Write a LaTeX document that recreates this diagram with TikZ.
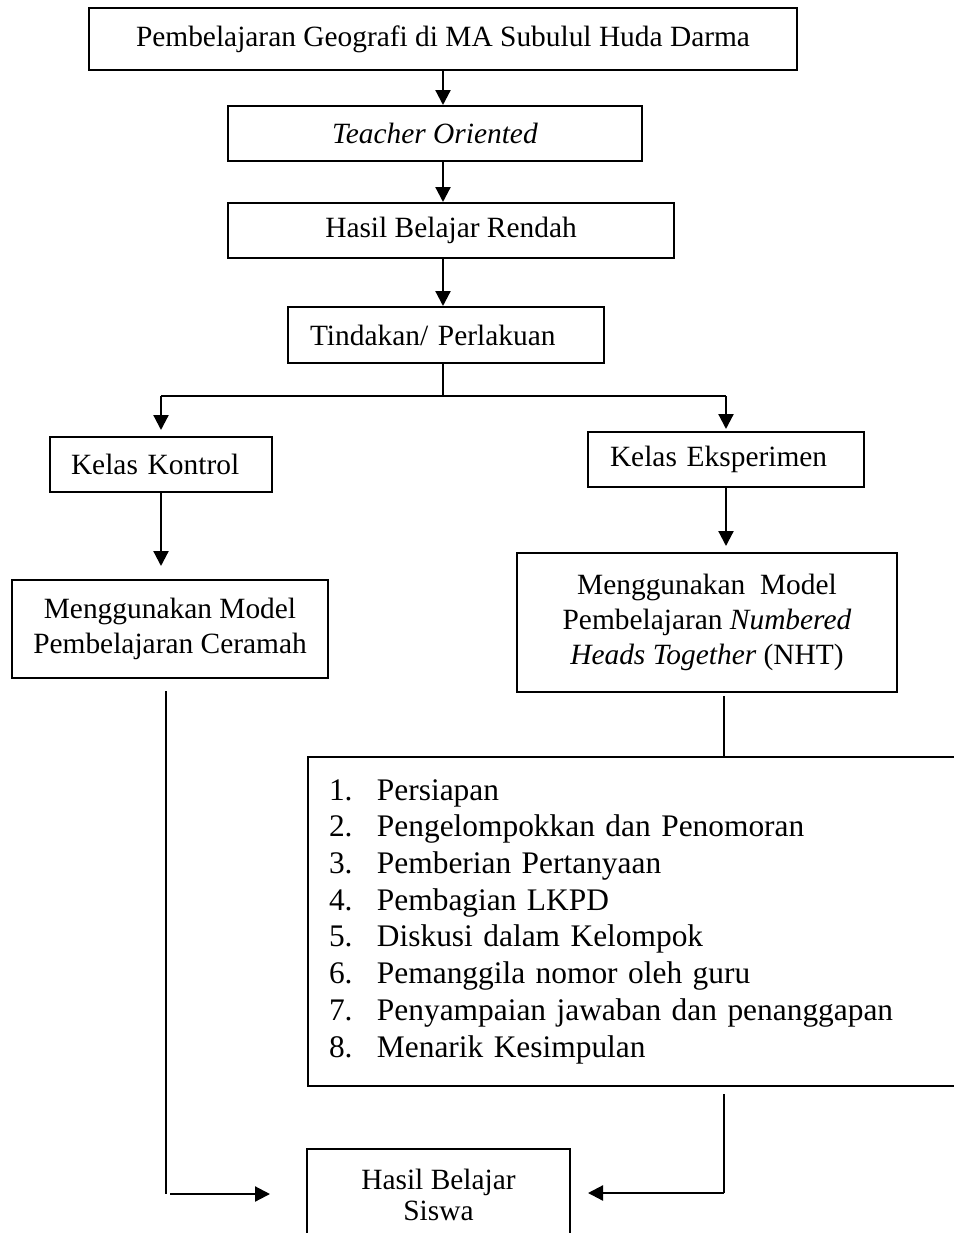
\documentclass[tikz,border=0pt]{standalone}
\usepackage{fontspec}
\setmainfont{Liberation Serif}
\usepackage{tikz}
\usetikzlibrary{arrows.meta,calc}
\tikzset{
  >={Triangle[length=7.5pt,width=7.5pt]},
  every node/.style={font=\fontsize{14.7}{17.5}\selectfont},
  kotak/.style={draw,line width=1pt,inner sep=0pt,align=center},
  kotakkiri/.style={kotak,align=left},
  daftar/.style={kotak,align=left,font=\fontsize{15.7}{18.35}\selectfont},
  panah/.style={->,line width=1.1pt},
  garis/.style={line width=0.6pt}
}

\begin{document}
\begin{tikzpicture}[x=0.5pt,y=-0.5pt]
  \useasboundingbox (0,0) rectangle (954,1233);

  \node[kotak,minimum width=354pt,minimum height=31pt] (geografi) at (443,39) {Pembelajaran Geografi di MA Subulul Huda Darma};
  \node[kotak,minimum width=207pt,minimum height=27.5pt] (teacher) at (435,133.5) {\textit{Teacher Oriented}};
  \node[kotak,minimum width=223pt,minimum height=27.5pt] (rendah) at (451,230.5) {Hasil Belajar Rendah};
  \node[kotakkiri,text width=136pt,inner xsep=11pt,minimum height=28pt] (tindakan) at (446,335) {Tindakan/ Perlakuan};

  \node[kotakkiri,text width=90pt,inner xsep=10.5pt,minimum height=27.5pt] (kontrol) at (161,464.5) {Kelas Kontrol};
  \node[kotakkiri,text width=116pt,inner xsep=11pt,minimum height=27.5pt] (eksperimen) at (726,459.5) {Kelas Eksperimen};

  \node[kotak,minimum width=158pt,minimum height=49pt] (ceramah) at (170,629) {Menggunakan Model\\Pembelajaran Ceramah};
  \node[kotak,minimum width=190pt,minimum height=69.5pt] (nht) at (707,622.5) {Menggunakan\ \ Model\\Pembelajaran \textit{Numbered}\\\textit{Heads Together} (NHT)};

  \node[daftar,anchor=north west,text width=305.5pt,inner xsep=10.5pt,minimum height=164.5pt] (langkah) at (307,756) {%
    \makebox[24pt][l]{1.}Persiapan\\
    \makebox[24pt][l]{2.}Pengelompokkan dan Penomoran\\
    \makebox[24pt][l]{3.}Pemberian Pertanyaan\\
    \makebox[24pt][l]{4.}Pembagian LKPD\\
    \makebox[24pt][l]{5.}Diskusi dalam Kelompok\\
    \makebox[24pt][l]{6.}Pemanggila nomor oleh guru\\
    \makebox[24pt][l]{7.}Penyampaian jawaban dan penanggapan\\
    \makebox[24pt][l]{8.}Menarik Kesimpulan};

  \node[kotak,anchor=north,minimum width=131.5pt,minimum height=46pt,font=\fontsize{14.7}{15.5}\selectfont] (siswa) at (438.5,1148) {Hasil Belajar\\Siswa};

  \coordinate (cabang) at (443,396);
  \coordinate (belokkiri) at (166,1194);
  \coordinate (belokkanan) at (724,1193);

  \draw[panah] (geografi.south) -- (geografi.south |- teacher.north);
  \draw[panah] (teacher.south -| geografi.south) -- (rendah.north -| geografi.south);
  \draw[panah] (rendah.south -| geografi.south) -- (tindakan.north -| geografi.south);

  \draw[garis] (tindakan.south -| geografi.south) -- (cabang);
  \draw[garis] (kontrol.north |- cabang) -- (eksperimen.north |- cabang);
  \draw[panah,shorten >=3pt] (kontrol.north |- cabang) -- (kontrol.north);
  \draw[panah,shorten >=1pt] (eksperimen.north |- cabang) -- (eksperimen.north);

  \draw[panah,shorten >=6.5pt] (kontrol.south) -- (kontrol.south |- ceramah.north);
  \draw[panah,shorten >=3pt] (eksperimen.south) -- (eksperimen.south |- nht.north);
  \draw[garis,shorten <=1.5pt] (nht.south -| belokkanan) -- (langkah.north -| belokkanan);

  \draw[garis,shorten <=6pt] (ceramah.south -| belokkiri) -- (belokkiri);
  \draw[panah,shorten <=2pt,shorten >=18pt] (belokkiri) -- (siswa.west |- belokkiri);
  \draw[garis,shorten <=3.5pt] (langkah.south -| belokkanan) -- (belokkanan);
  \draw[panah,shorten >=8.5pt] (belokkanan) -- (siswa.east |- belokkanan);
\end{tikzpicture}
\end{document}
